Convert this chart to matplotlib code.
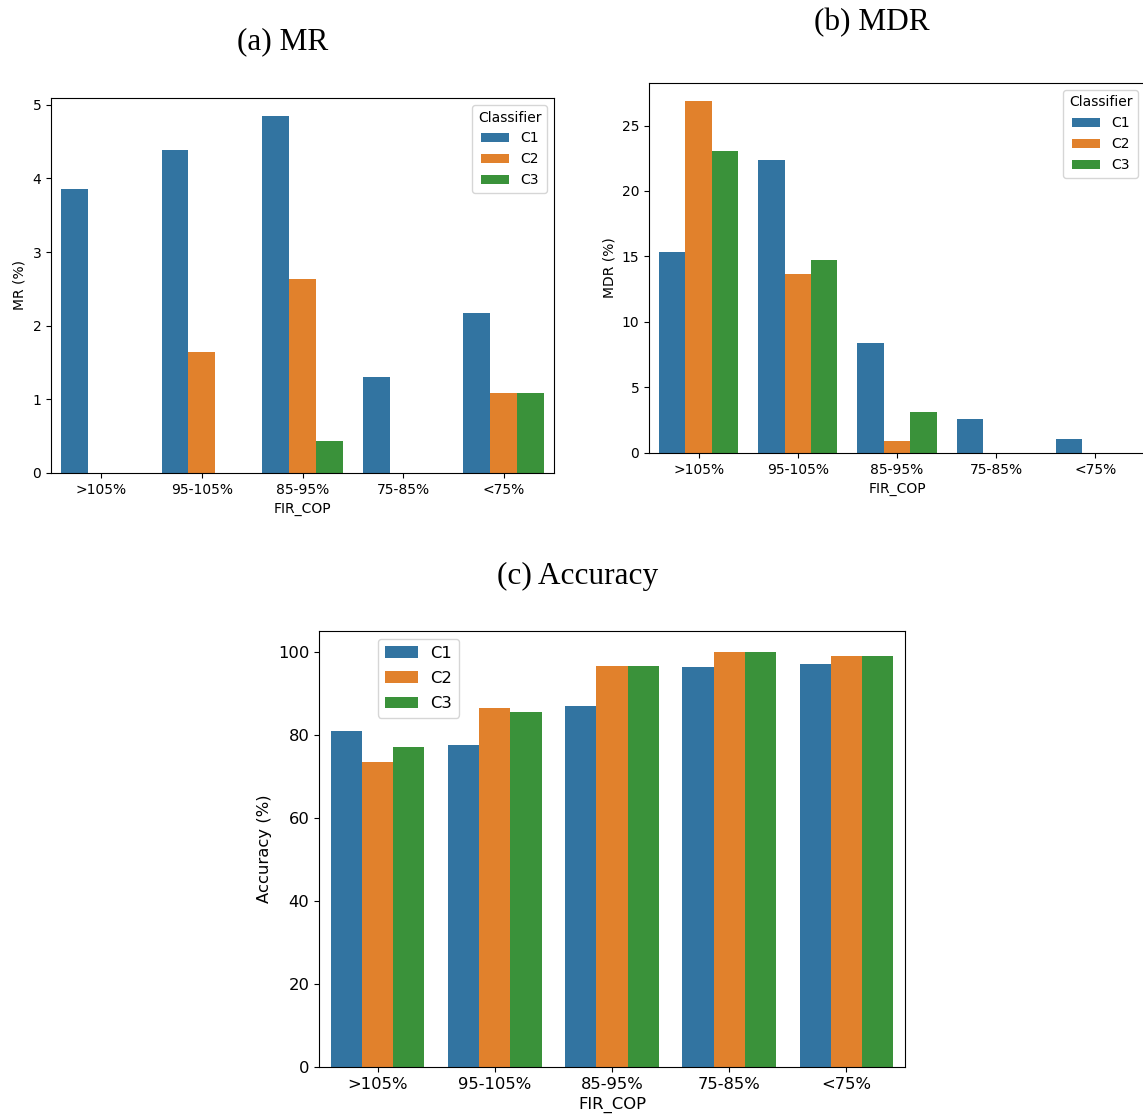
import matplotlib
matplotlib.use("Agg")
import matplotlib.pyplot as plt
import numpy as np

# categories and classifiers
fir_cop = [">105%", "95-105%", "85-95%", "75-85%", "<75%"]
classifiers = ["C1", "C2", "C3"]
colors = ["#3274a1", "#e1812c", "#3a923a"]

# miss rate (%)
mr_c1 = [3.85, 4.38, 4.85, 1.31, 2.17]
mr_c2 = [0.0, 1.64, 2.64, 0.0, 1.09]
mr_c3 = [0.0, 0.0, 0.44, 0.0, 1.09]

# missed detection rate (%)
mdr_c1 = [15.38, 22.4, 8.43, 2.62, 1.09]
mdr_c2 = [26.9, 13.7, 0.94, 0.0, 0.0]
mdr_c3 = [23.09, 14.77, 3.16, 0.0, 0.0]

# accuracy (%)
acc_c1 = [81.0, 77.6, 87.0, 96.4, 97.0]
acc_c2 = [73.4, 86.4, 96.6, 100.0, 98.9]
acc_c3 = [77.0, 85.5, 96.6, 100.0, 98.9]


def grouped_bars(ax, series, ylabel, fs):
    x = np.arange(len(fir_cop))
    w = 0.8 / len(series)
    for i, vals in enumerate(series):
        ax.bar(x - 0.4 + w * (i + 0.5), vals, width=w, color=colors[i],
               label=classifiers[i], linewidth=0)
    ax.set_xticks(x)
    ax.set_xticklabels(fir_cop, fontsize=fs)
    ax.tick_params(axis="y", labelsize=fs)
    ax.set_xlim(-0.5, len(fir_cop) - 0.5)
    ax.set_xlabel("FIR_COP", fontsize=fs)
    ax.set_ylabel(ylabel, fontsize=fs)


fig = plt.figure(figsize=(11.43, 11.2), dpi=100)

ax1 = fig.add_axes([0.04462, 0.57768, 0.44007, 0.33482])
grouped_bars(ax1, [mr_c1, mr_c2, mr_c3], "MR (%)", 10)
ax1.legend(title="Classifier", loc="upper right", fontsize=10, title_fontsize=10)

ax2 = fig.add_axes([0.56780, 0.59554, 0.43395, 0.33036])
grouped_bars(ax2, [mdr_c1, mdr_c2, mdr_c3], "MDR (%)", 10)
ax2.legend(title="Classifier", loc="upper right", fontsize=10, title_fontsize=10)

ax3 = fig.add_axes([0.27909, 0.04732, 0.51269, 0.38929])
grouped_bars(ax3, [acc_c1, acc_c2, acc_c3], "Accuracy (%)", 11.8)
ax3.legend(loc="upper left", bbox_to_anchor=(0.087, 1.0), fontsize=11.8,
           labelspacing=0.62)

# panel captions
serif = ["Liberation Serif", "DejaVu Serif"]
fig.text(283 / 1143, 1 - 49 / 1120, "(a) MR", ha="center", va="baseline",
         family=serif, fontsize=22.5)
fig.text(872 / 1143, 1 - 30 / 1120, "(b) MDR", ha="center", va="baseline",
         family=serif, fontsize=22.5)
fig.text(578 / 1143, 1 - 584 / 1120, "(c) Accuracy", ha="center", va="baseline",
         family=serif, fontsize=22.5)

fig.savefig("out.png", dpi=100)
